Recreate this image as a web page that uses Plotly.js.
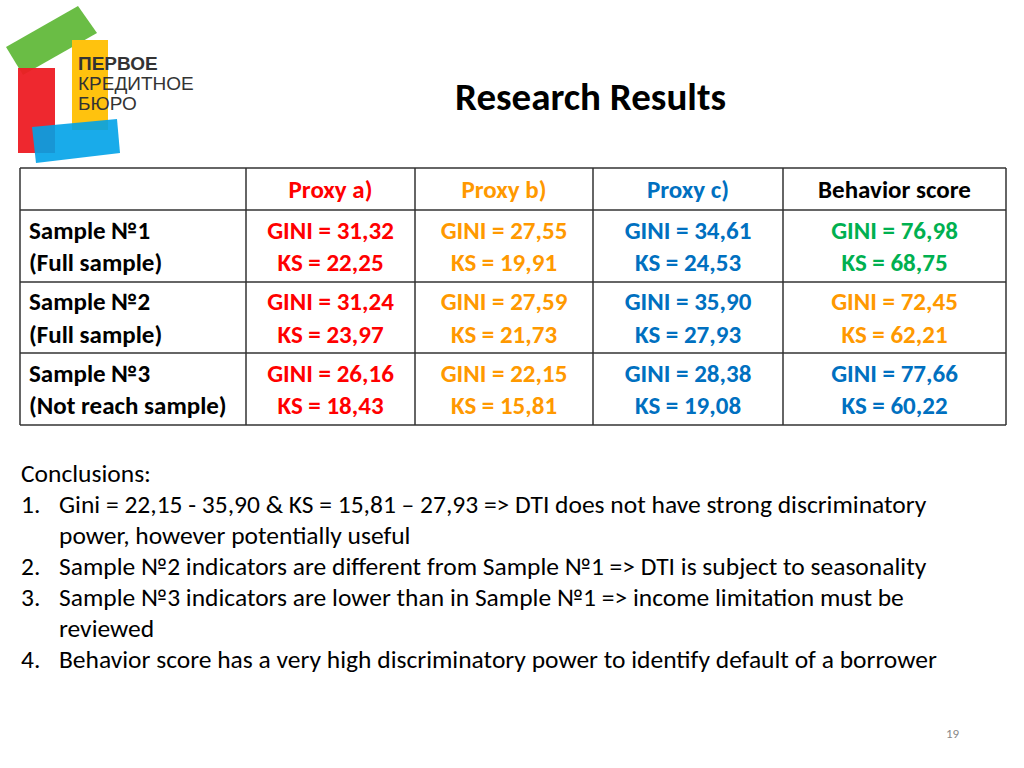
<!DOCTYPE html>
<html>
<head>
<meta charset="utf-8">
<script src="https://cdn.plot.ly/plotly-3.0.1.min.js"></script>
<style>html,body{margin:0;padding:0;background:#fff;}#chart{width:1024px;height:768px;}</style>
</head>
<body>
<div id="chart"></div>
<script>
// ---- Data ----
const proxies = ["Proxy a)", "Proxy b)", "Proxy c)", "Behavior score"];
const samples = ["Sample №1", "Sample №2", "Sample №3"];
const sampleNotes = ["(Full sample)", "(Full sample)", "(Not reach sample)"];
const giniA = [31.32, 31.24, 26.16];
const ksA   = [22.25, 23.97, 18.43];
const giniB = [27.55, 27.59, 22.15];
const ksB   = [19.91, 21.73, 15.81];
const giniC = [34.61, 35.90, 28.38];
const ksC   = [24.53, 27.93, 19.08];
const giniBeh = [76.98, 72.45, 77.66];
const ksBeh   = [68.75, 62.21, 60.22];
const conclusionNums = ["1.", "", "2.", "3.", "", "4."];
const conclusionLines = [
  "Gini = 22,15 - 35,90 & KS = 15,81 – 27,93 => DTI does not have strong discriminatory",
  "power, however potentially useful",
  "Sample №2 indicators are different from Sample №1 => DTI is subject to seasonality",
  "Sample №3 indicators are lower than in Sample №1 => income limitation must be",
  "reviewed",
  "Behavior score has a very high discriminatory power to identify default of a borrower"
];
const logoLines = ["<b>ПЕРВОЕ</b>", "КРЕДИТНОЕ", "БЮРО"];

// ---- Layout geometry (pixels) ----
const FONT = "Carlito, Calibri, Lato, sans-serif";
const RED = "#FF0000", ORANGE = "#FF9900", BLUE = "#0070C0", GREEN = "#00B050", BLACK = "#000000";
const W = 1024, H = 768;
const colEdges = [20, 246, 415, 593, 783, 1006];
const rowEdges = [168, 210, 282, 353, 425];
const colCenters = colEdges.slice(0, -1).map((e, i) => (e + colEdges[i + 1]) / 2);
const rowCenters = rowEdges.slice(0, -1).map((e, i) => (e + rowEdges[i + 1]) / 2 + 2.5);

const fmt = v => v.toFixed(2).replace(".", ",");
const columnsData = [[giniA, ksA], [giniB, ksB], [giniC, ksC], [giniBeh, ksBeh]];
const cellColors = [
  [RED, RED, RED],
  [ORANGE, ORANGE, ORANGE],
  [BLUE, BLUE, BLUE],
  [GREEN, ORANGE, BLUE]
];
const headerColors = [RED, ORANGE, BLUE, BLACK];
const TSIZE = 25;

// header trace
const headerTrace = {
  type: "scatter", mode: "text", hoverinfo: "skip",
  x: colCenters.slice(1), y: proxies.map(() => rowCenters[0]),
  text: proxies.map(p => "<b>" + p + "</b>"),
  textposition: "middle center",
  textfont: {family: FONT, size: TSIZE, color: headerColors}
};

// row label trace
const labelTrace = {
  type: "scatter", mode: "text", hoverinfo: "skip",
  x: samples.map(() => colEdges[0] + 9), y: rowCenters.slice(1),
  text: samples.map((s, i) => "<b>" + s + "<br>" + sampleNotes[i] + "</b>"),
  textposition: "middle right",
  textfont: {family: FONT, size: TSIZE, color: BLACK}
};

// value cells trace
const cx = [], cy = [], ct = [], cc = [];
columnsData.forEach((col, j) => {
  col[0].forEach((g, i) => {
    cx.push(colCenters[j + 1]);
    cy.push(rowCenters[i + 1]);
    ct.push("<b>GINI = " + fmt(g) + "<br>KS = " + fmt(col[1][i]) + "</b>");
    cc.push(cellColors[j][i]);
  });
});
const cellTrace = {
  type: "scatter", mode: "text", hoverinfo: "skip",
  x: cx, y: cy, text: ct, textposition: "middle center",
  textfont: {family: FONT, size: TSIZE, color: cc}
};

// grid shapes
const shapes = [];
const gridLine = {color: "#333", width: 1.5};
colEdges.forEach(x => shapes.push({type: "line", xref: "x", yref: "y", x0: x, x1: x, y0: rowEdges[0], y1: rowEdges[rowEdges.length - 1], line: gridLine}));
rowEdges.forEach(y => shapes.push({type: "line", xref: "x", yref: "y", x0: colEdges[0], x1: colEdges[colEdges.length - 1], y0: y, y1: y, line: gridLine}));

// logo shapes
const poly = pts => "M" + pts.map(p => p[0] + "," + p[1]).join("L") + "Z";
shapes.push(
  {type: "path", xref: "x", yref: "y", path: poly([[6,47],[78,6],[97,33],[23,75]]), fillcolor: "#6ABD45", line: {width: 0}},
  {type: "path", xref: "x", yref: "y", path: poly([[18,68],[55,68],[55,153],[18,153]]), fillcolor: "#ED1C24", opacity: 0.95, line: {width: 0}},
  {type: "path", xref: "x", yref: "y", path: poly([[72,40],[108,40],[108,130],[72,130]]), fillcolor: "#FFC20E", line: {width: 0}},
  {type: "path", xref: "x", yref: "y", path: poly([[32,127],[117,119],[120,153],[36,163]]), fillcolor: "#00A2E8", opacity: 0.9, line: {width: 0}}
);

const annotations = [];
const ann = (text, x, y, anchor, size, color, family) => annotations.push({
  text: text, x: x, y: y, xref: "x", yref: "y", showarrow: false,
  xanchor: anchor, yanchor: "middle",
  font: {family: family || FONT, size: size, color: color}
});
ann("<b>Research Results</b>", 590, 96, "center", 39, "#000");
ann("Conclusions:", 19, 473, "left", 25.5, "#000");
conclusionLines.forEach((t, i) => {
  const y = 504 + i * 31;
  if (conclusionNums[i]) ann(conclusionNums[i], 19, y, "left", 25.5, "#000");
  ann(t, 57, y, "left", 25.5, "#000");
});
logoLines.forEach((t, i) => ann(t, 76, 63 + i * 20, "left", 19, "#333", "Liberation Sans, Arial, sans-serif"));
ann("19", 953, 733, "center", 13, "#888");

const layout = {
  width: W, height: H,
  margin: {l: 0, r: 0, t: 0, b: 0},
  paper_bgcolor: "#fff", plot_bgcolor: "#fff",
  xaxis: {range: [0, W], visible: false, fixedrange: true},
  yaxis: {range: [H, 0], visible: false, fixedrange: true},
  annotations: annotations,
  shapes: shapes,
  showlegend: false
};

Plotly.newPlot("chart", [headerTrace, labelTrace, cellTrace], layout, {displayModeBar: false, staticPlot: true});
</script>
</body>
</html>
